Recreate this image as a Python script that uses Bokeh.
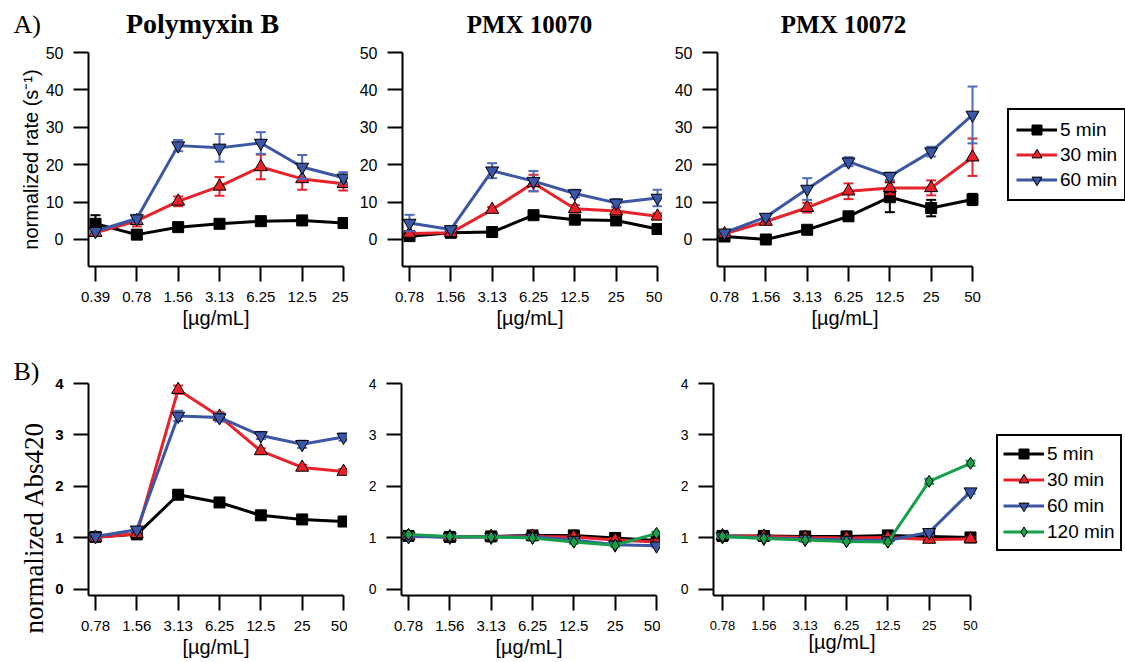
import math
from bokeh.plotting import figure
from bokeh.layouts import column, row
from bokeh.models import FixedTicker, Legend, LegendItem
from bokeh.core.properties import value
from bokeh.embed import file_html
from bokeh.resources import INLINE

SANS = "Liberation Sans"
SERIF = "Liberation Serif"

# ---------------- data ----------------
conc_pmb_rate = ["0.39", "0.78", "1.56", "3.13", "6.25", "12.5", "25"]
conc_std = ["0.78", "1.56", "3.13", "6.25", "12.5", "25", "50"]

times_rate = ["5 min", "30 min", "60 min"]
times_abs = ["5 min", "30 min", "60 min", "120 min"]

titles = ["Polymyxin B", "PMX 10070", "PMX 10072"]

# A) normalized rate
pmb_rate = {
    "5 min": [4.2, 1.3, 3.3, 4.2, 4.9, 5.1, 4.4],
    "30 min": [1.8, 5.0, 10.2, 14.2, 19.4, 16.2, 14.9],
    "60 min": [2.2, 5.6, 25.1, 24.5, 25.8, 19.4, 16.5],
}
pmb_rate_err = {
    "5 min": [2.3, 0.4, 0.4, 0.4, 0.4, 0.4, 0.4],
    "30 min": [0.5, 1.5, 1.3, 2.5, 3.3, 2.9, 1.8],
    "60 min": [0.5, 1.0, 1.5, 3.7, 2.9, 3.2, 1.5],
}
x70_rate = {
    "5 min": [0.9, 1.8, 2.0, 6.5, 5.3, 5.1, 2.8],
    "30 min": [1.6, 1.8, 8.0, 15.1, 8.2, 7.6, 6.2],
    "60 min": [4.4, 2.7, 18.4, 15.6, 12.3, 9.8, 11.1],
}
x70_rate_err = {
    "5 min": [0.3, 0.3, 0.3, 0.9, 0.6, 0.6, 0.4],
    "30 min": [0.5, 0.3, 0.7, 2.2, 1.0, 1.0, 0.8],
    "60 min": [2.2, 0.4, 2.0, 2.7, 1.0, 1.0, 2.2],
}
x72_rate = {
    "5 min": [0.8, 0.0, 2.6, 6.2, 11.3, 8.4, 10.7],
    "30 min": [1.5, 4.8, 8.5, 12.9, 13.8, 13.8, 22.0],
    "60 min": [1.8, 6.0, 13.5, 20.8, 16.9, 23.5, 33.3],
}
x72_rate_err = {
    "5 min": [0.3, 0.3, 0.4, 1.0, 4.0, 2.2, 1.5],
    "30 min": [0.3, 0.5, 1.3, 2.1, 1.7, 2.0, 5.0],
    "60 min": [0.3, 0.5, 2.9, 1.2, 1.0, 1.3, 7.6],
}

# B) normalized Abs420
pmb_abs = {
    "5 min": [1.02, 1.07, 1.84, 1.69, 1.44, 1.36, 1.32],
    "30 min": [1.01, 1.08, 3.88, 3.36, 2.69, 2.37, 2.29],
    "60 min": [1.03, 1.16, 3.37, 3.34, 2.99, 2.82, 2.96],
}
pmb_abs_err = {
    "5 min": [0.03, 0.03, 0.04, 0.04, 0.04, 0.04, 0.04],
    "30 min": [0.03, 0.03, 0.08, 0.08, 0.05, 0.05, 0.05],
    "60 min": [0.03, 0.03, 0.10, 0.08, 0.07, 0.07, 0.07],
}
x70_abs = {
    "5 min": [1.04, 1.02, 1.03, 1.05, 1.05, 1.00, 0.95],
    "30 min": [1.04, 1.02, 1.03, 1.03, 1.02, 0.96, 0.92],
    "60 min": [1.03, 1.02, 1.02, 1.02, 0.96, 0.87, 0.85],
    "120 min": [1.07, 1.03, 1.02, 1.00, 0.92, 0.86, 1.09],
}
x70_abs_err = {
    "5 min": [0.02, 0.02, 0.02, 0.03, 0.07, 0.05, 0.04],
    "30 min": [0.02, 0.02, 0.02, 0.02, 0.04, 0.04, 0.04],
    "60 min": [0.02, 0.02, 0.02, 0.02, 0.03, 0.03, 0.03],
    "120 min": [0.02, 0.02, 0.02, 0.02, 0.03, 0.03, 0.03],
}
x72_abs = {
    "5 min": [1.04, 1.04, 1.03, 1.03, 1.05, 1.03, 1.01],
    "30 min": [1.04, 1.03, 1.01, 1.00, 1.01, 0.97, 0.98],
    "60 min": [1.03, 1.00, 0.98, 0.96, 0.95, 1.11, 1.90],
    "120 min": [1.03, 0.99, 0.96, 0.93, 0.92, 2.10, 2.45],
}
x72_abs_err = {
    "5 min": [0.02, 0.02, 0.02, 0.02, 0.03, 0.03, 0.03],
    "30 min": [0.02, 0.02, 0.02, 0.02, 0.03, 0.04, 0.03],
    "60 min": [0.02, 0.02, 0.02, 0.02, 0.03, 0.05, 0.04],
    "120 min": [0.02, 0.02, 0.02, 0.02, 0.03, 0.05, 0.05],
}

rate_ticks = [0, 10, 20, 30, 40, 50]
abs_ticks = [0, 1, 2, 3, 4]

# ---------------- styles ----------------
COLORS = {"5 min": "#000000", "30 min": "#e8222b", "60 min": "#3a56a5", "120 min": "#16a04b"}
ERRCOL = {"5 min": "#000000", "30 min": "#e8222b", "60 min": "#4d6cbf", "120 min": "#16a04b"}
MARKERS = {"5 min": "square", "30 min": "triangle", "60 min": "inverted_triangle", "120 min": "diamond"}
SIZES = {"5 min": 11, "30 min": 13, "60 min": 13, "120 min": 12}


def panel(conc, series, errors, keys, yr, yticks, bl, br, bt, bb, fh, fw=255, inset=7,
          xtick_size="15px", ytick_size="16px", ytick_bold=False, tick_out=15,
          xlabel_standoff=2):
    n = len(conc)
    xs = list(range(n))
    step = (fw - inset) / (n - 1)
    x0 = -inset / step
    p = figure(frame_width=fw, frame_height=fh, x_range=(x0, n - 1), y_range=yr,
               min_border_left=bl, min_border_right=br, min_border_top=bt,
               min_border_bottom=bb, toolbar_location=None, output_backend="svg")
    p.outline_line_color = None
    p.xgrid.visible = False
    p.ygrid.visible = False
    p.background_fill_color = "white"
    p.border_fill_color = "white"
    for ax in (p.xaxis[0], p.yaxis[0]):
        ax.axis_line_width = 2
        ax.axis_line_color = "black"
        ax.major_tick_line_width = 2
        ax.major_tick_line_color = "black"
        ax.major_tick_in = 0
        ax.major_tick_out = tick_out
        ax.minor_tick_line_color = None
        ax.major_label_text_color = "black"
        ax.major_label_text_font = SANS
    xa = p.xaxis[0]
    xa.ticker = FixedTicker(ticks=xs)
    xa.major_label_overrides = {i: c for i, c in enumerate(conc)}
    xa.major_label_text_font_size = xtick_size
    xa.major_label_standoff = 10
    xa.axis_label = "[µg/mL]"
    xa.axis_label_text_font = SANS
    xa.axis_label_text_font_size = "20px"
    xa.axis_label_text_font_style = "normal"
    xa.axis_label_text_color = "black"
    xa.axis_label_standoff = xlabel_standoff
    ya = p.yaxis[0]
    ya.ticker = FixedTicker(ticks=yticks)
    ya.major_label_text_font_size = ytick_size
    ya.major_label_text_font_style = "bold" if ytick_bold else "normal"
    ya.major_label_standoff = 10

    rends = {}
    for k in keys:
        y = series[k]
        e = errors[k]
        lo = [a - b for a, b in zip(y, e)]
        hi = [a + b for a, b in zip(y, e)]
        p.segment(x0=xs, y0=lo, x1=xs, y1=hi, line_color=ERRCOL[k], line_width=2, level="overlay")
        p.scatter(x=xs + xs, y=lo + hi, marker="dash", size=10, line_color=ERRCOL[k],
                  line_width=2, level="overlay")
        lr = p.line(xs, y, line_color=COLORS[k], line_width=3, level="overlay")
        sr = p.scatter(xs, y, marker=MARKERS[k], size=SIZES[k], fill_color=COLORS[k],
                       line_color="black", line_width=1, level="overlay")
        rends[k] = [lr, sr]
    ppu = fh / (yr[1] - yr[0])
    return p, rends, x0, step, ppu


def add_legend(p, rends, keys, loc, glyph_h, spacing, padding):
    items = [LegendItem(label=k, renderers=rends[k]) for k in keys]
    lg = Legend(items=items, location=loc)
    lg.label_text_font = SANS
    lg.label_text_font_size = "19px"
    lg.label_text_color = "black"
    lg.glyph_width = 41
    lg.glyph_height = glyph_h
    lg.label_height = glyph_h
    lg.label_standoff = 3
    lg.spacing = spacing
    lg.padding = padding
    lg.margin = 0
    lg.border_line_color = "black"
    lg.border_line_alpha = 1.0
    lg.border_line_width = 2
    lg.background_fill_color = "white"
    lg.background_fill_alpha = 1
    p.add_layout(lg, "right")


def side_text(p, x, y, txt, size, angle=0.0, align="left", style="normal"):
    p.text(x=[x], y=[y], text=[txt], angle=angle, text_font=value(SERIF),
           text_font_size=value(size), text_font_style=style, text_color="black",
           text_align=align, text_baseline="middle", level="overlay")


# ---------------- row 1 ----------------
R1_BT, R1_FH, R1_BB = 52, 214, 70
rate_range = (-7.22, 50)

p1, r1, x01, st1, ppu1 = panel(conc_pmb_rate, pmb_rate, pmb_rate_err, times_rate, rate_range,
                               rate_ticks, 88, 5, R1_BT, R1_BB, R1_FH)
p1.yaxis[0].axis_label = "normalized rate (s⁻¹)"
p1.yaxis[0].axis_label_text_font = SANS
p1.yaxis[0].axis_label_text_font_size = "20px"
p1.yaxis[0].axis_label_text_font_style = "normal"
p1.yaxis[0].axis_label_text_color = "black"
p1.yaxis[0].axis_label_standoff = 1
side_text(p1, x01 - 75 / st1, rate_range[1] + 28 / ppu1, "A)", "26px")
side_text(p1, x01 + 114 / st1, rate_range[1] + 29 / ppu1, titles[0], "28px",
          align="center", style="bold")

p2, r2, x02, st2, ppu2 = panel(conc_std, x70_rate, x70_rate_err, times_rate, rate_range,
                               rate_ticks, 54, 5, R1_BT, R1_BB, R1_FH)
side_text(p2, x02 + 127 / st2, rate_range[1] + 28 / ppu2, titles[1], "25px",
          align="center", style="bold")
p3, r3, x03, st3, ppu3 = panel(conc_std, x72_rate, x72_rate_err, times_rate, rate_range,
                               rate_ticks, 55, 153, R1_BT, R1_BB, R1_FH)
side_text(p3, x03 + 126 / st3, rate_range[1] + 28 / ppu3, titles[2], "25px",
          align="center", style="bold")
add_legend(p3, r3, times_rate, (35, 65), 25, 0, 7)

# ---------------- row 2 ----------------
R2_BT, R2_FH, R2_BB = 47, 212, 67
abs_range = (-0.117, 4)

p4, r4, x04, st4, ppu4 = panel(conc_std, pmb_abs, pmb_abs_err, times_rate, abs_range, abs_ticks,
                               88, 4, R2_BT, R2_BB, R2_FH, ytick_size="15px", ytick_bold=True)
side_text(p4, x04 - 75 / st4, abs_range[1] + 12 / ppu4, "B)", "26px")
side_text(p4, x04 - 55 / st4, abs_range[1] - 144 / ppu4, "normalized Abs420", "27px",
          angle=math.pi / 2, align="center")

p5, r5, _, _, _ = panel(conc_std, x70_abs, x70_abs_err, times_abs, abs_range, abs_ticks,
                        54, 4, R2_BT, R2_BB, R2_FH, ytick_size="14px")
p6, r6, _, _, _ = panel(conc_std, x72_abs, x72_abs_err, times_abs, abs_range, abs_ticks,
                        53, 157, R2_BT, R2_BB, R2_FH, fw=257, inset=9, xtick_size="13px",
                        ytick_size="14px", xlabel_standoff=-2)
add_legend(p6, r6, times_abs, (26, 44), 25, 1, 5)

layout = column(row(p1, p2, p3), row(p4, p5, p6))

open("out.html", "w").write(file_html(layout, INLINE))
